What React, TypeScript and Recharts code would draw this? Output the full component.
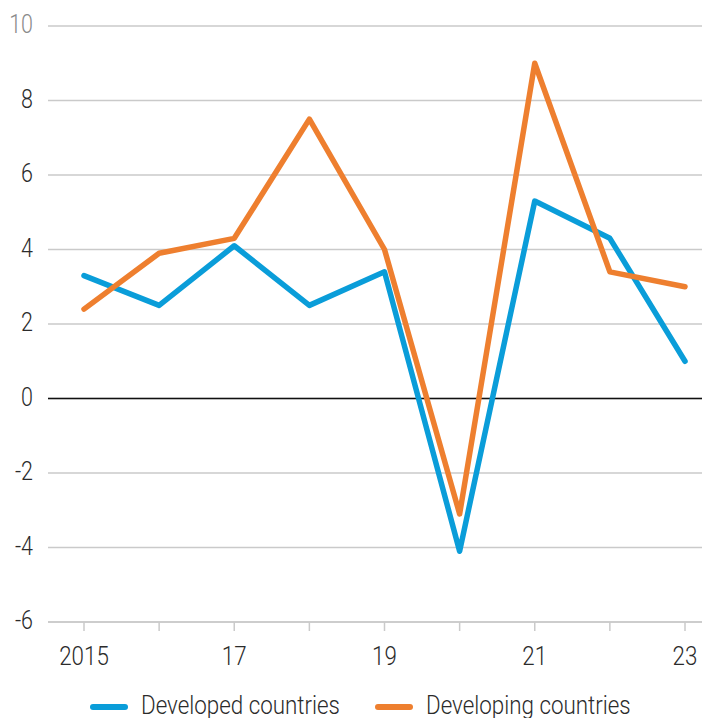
import { CartesianGrid, Legend, Line, LineChart, ReferenceLine, XAxis, YAxis } from 'recharts'

const YEARS = ['2015', '2016', '2017', '2018', '2019', '2020', '2021', '2022', '2023']
const X_LABELS = ['2015', '', '17', '', '19', '', '21', '', '23']
const DEVELOPED = [3.3, 2.5, 4.1, 2.5, 3.4, -4.1, 5.3, 4.3, 1.0]
const DEVELOPING = [2.4, 3.9, 4.3, 7.5, 4.0, -3.1, 9.0, 3.4, 3.0]
const Y_TICKS = [-6, -4, -2, 0, 2, 4, 6, 8, 10]

const BLUE = '#0a9dd9'
const ORANGE = '#ee7f2f'
const FONT = 'Roboto, sans-serif'
const SQUEEZE = 0.86

const data = YEARS.map((year, i) => ({
  year,
  developed: DEVELOPED[i],
  developing: DEVELOPING[i],
}))

function XTick({ x, y, index }: any) {
  return (
    <g transform={`translate(${x},${y + 31}) scale(${SQUEEZE},1)`}>
      <text x={0} y={0} textAnchor="middle" fontFamily={FONT} fontWeight={300} fontSize={26} fill="#2b2b2b">
        {X_LABELS[index]}
      </text>
    </g>
  )
}

function YTick({ x, y, payload }: any) {
  const top = payload.value === 10
  return (
    <g transform={`translate(${x},${y + 7}) scale(${SQUEEZE},1)`}>
      <text x={0} y={0} textAnchor="end" fontFamily={FONT} fontWeight={300} fontSize={25} fill={top ? '#8a8a8a' : '#2b2b2b'}>
        {payload.value}
      </text>
    </g>
  )
}

const LEGEND_ITEMS = [
  { label: 'Developed countries', color: BLUE, left: 90 },
  { label: 'Developing countries', color: ORANGE, left: 375 },
]

function LegendContent() {
  return (
    <div style={{ position: 'relative', width: 702, height: 30 }}>
      {LEGEND_ITEMS.map((item) => (
        <div key={item.label} style={{ position: 'absolute', left: item.left, top: 0 }}>
          <div
            style={{
              position: 'absolute',
              left: 0,
              top: 14,
              width: 38,
              height: 6,
              borderRadius: 3,
              background: item.color,
            }}
          />
          <span
            style={{
              position: 'absolute',
              left: 51,
              top: 0,
              whiteSpace: 'nowrap',
              fontFamily: FONT,
              fontWeight: 300,
              fontSize: 26,
              lineHeight: '30px',
              color: '#2b2b2b',
              transform: `scaleX(${SQUEEZE})`,
              transformOrigin: 'left center',
            }}
          >
            {item.label}
          </span>
        </div>
      ))}
    </div>
  )
}

export default function App() {
  return (
    <div style={{ width: 702, height: 718, overflow: 'hidden', background: '#fff' }}>
      <style>{'body{margin:0}'}</style>
      <LineChart width={702} height={718} data={data} margin={{ top: 26, right: 0, left: 0, bottom: 0 }}>
        <CartesianGrid vertical={false} stroke="#cacaca" strokeWidth={1.5} />
        <XAxis
          dataKey="year"
          interval={0}
          height={96}
          padding={{ left: 36, right: 17 }}
          axisLine={{ stroke: '#cacaca', strokeWidth: 1.5 }}
          tickLine={{ stroke: '#cacaca', strokeWidth: 1.5 }}
          tickSize={9}
          tickMargin={3}
          tick={<XTick />}
        />
        <YAxis
          width={48}
          domain={[-6, 10]}
          ticks={Y_TICKS}
          interval={0}
          axisLine={false}
          tickLine={false}
          tickSize={6}
          tickMargin={9}
          tick={<YTick />}
        />
        <ReferenceLine y={0} stroke="#111" strokeWidth={1.5} />
        <Line
          dataKey="developed"
          name="Developed countries"
          stroke={BLUE}
          strokeWidth={5.5}
          strokeLinecap="round"
          strokeLinejoin="round"
          dot={false}
          activeDot={false}
          isAnimationActive={false}
        />
        <Line
          dataKey="developing"
          name="Developing countries"
          stroke={ORANGE}
          strokeWidth={5.5}
          strokeLinecap="round"
          strokeLinejoin="round"
          dot={false}
          activeDot={false}
          isAnimationActive={false}
        />
        <Legend
          layout="horizontal"
          verticalAlign="middle"
          align="center"
          wrapperStyle={{ top: 690, left: 0, width: 702 }}
          content={<LegendContent />}
        />
      </LineChart>
    </div>
  )
}
